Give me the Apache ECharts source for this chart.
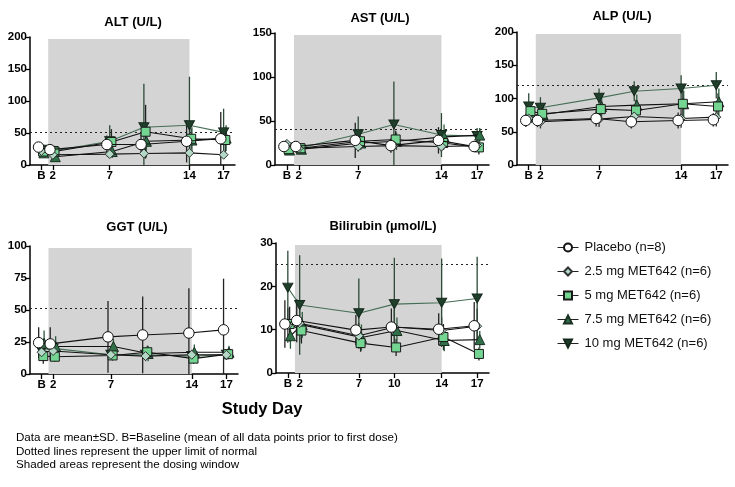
<!DOCTYPE html>
<html><head><meta charset="utf-8">
<script src="https://cdn.jsdelivr.net/npm/echarts@6/dist/echarts.min.js"></script>
<style>html,body{margin:0;padding:0;background:#fff}#c{width:735px;height:487px}</style>
</head><body><div id="c"></div>
<script>
// ---- data ----
const days = [1, 2, 7, 10, 14, 17];           // B (baseline) plotted at day 1
const dayLabelB = 'B';
const groups = ['Placebo (n=8)', '2.5 mg MET642 (n=6)', '5 mg MET642 (n=6)', '7.5 mg MET642 (n=6)', '10 mg MET642 (n=6)'];
const dosingWindow = [1.6, 14];

const altMean = [[28, 24, 32, 32, 37, 41], [22, 16, 17, 18, 19, 16], [21, 21, 36, 52, 41, 39], [19, 13, 21, 37, 39, 42], [24, 22, 37, 59, 62, 51]];
const altSD   = [[8, 7, 14, 16, 33, 42], [6, 4, 5, 6, 6, 5], [8, 9, 20, 42, 16, 20], [6, 4, 10, 25, 20, 20], [8, 8, 25, 68, 76, 37]];
const astMean = [[21, 21, 28, 22, 28, 21], [24, 19, 21, 22, 21, 22], [18, 19, 27, 29, 25, 20], [17, 18, 25, 27, 32, 34], [20, 19, 35, 46, 34, 33]];
const astSD   = [[4, 3, 20, 8, 15, 6], [4, 3, 5, 5, 6, 5], [4, 3, 8, 10, 8, 8], [4, 3, 8, 10, 14, 8], [5, 4, 20, 49, 25, 9]];
const alpMean = [[67, 67, 70, 65, 67, 68], [70, 65, 69, 73, 70, 72], [81, 77, 84, 82, 92, 88], [75, 76, 88, 90, 92, 95], [88, 86, 101, 111, 115, 120]];
const alpSD   = [[10, 10, 12, 10, 12, 10], [10, 10, 12, 14, 14, 14], [14, 14, 15, 16, 20, 20], [12, 14, 15, 16, 20, 20], [20, 16, 14, 15, 20, 20]];
const ggtMean = [[24.5, 23.5, 29, 30.5, 32, 34.5], [17, 18, 15, 14, 15, 15], [14, 13.5, 14.5, 17, 12, 15.5], [24, 21.5, 21.5, 16, 17, 17], [18, 20, 15, 15, 14, 15]];
const ggtSD   = [[12, 13, 28, 30, 35, 40], [5, 5, 4, 4, 4, 4], [6, 4, 4, 5, 4, 4], [10, 8, 6, 6, 6, 5], [6, 6, 4, 4, 4, 4]];
const biliMean = [[11.3, 12.1, 9.9, 10.6, 10.1, 10.9], [11, 11.5, 8.6, 10.6, 9.8, 10.8], [11.3, 9.8, 6.9, 5.9, 8.3, 4.4], [8.6, 11.1, 8.2, 9.8, 7.5, 7.7], [19.7, 15.7, 13.8, 15.9, 16.2, 17.2]];
const biliSD   = [[5.5, 5, 3.5, 4.3, 3.7, 5.5], [4, 4, 3, 4, 3, 4], [4, 3, 2, 2, 3, 1.5], [3, 3, 3, 3, 2.5, 2], [8.5, 11.5, 8, 10.7, 10.2, 9.6]];

const panelTitles = ['ALT (U/L)', 'AST (U/L)', 'ALP (U/L)', 'GGT (U/L)', 'Bilirubin (\u00b5mol/L)'];
const panelUln = [51, 41, 120, 51, 25];
const panelYMax = [200, 150, 200, 100, 30];
const panelYStep = [50, 50, 50, 25, 10];
const ticksShort = [1, 2, 7, 14, 17];
const ticksLong = [1, 2, 7, 10, 14, 17];
const footnotes = ['Data are mean\u00b1SD. B=Baseline (mean of all data points prior to first dose)', 'Dotted lines represent the upper limit of normal', 'Shaded areas represent the dosing window'];

// ---- styling / layout ----
const FONT = 'Liberation Sans, Arial, Helvetica, sans-serif';
const grids = [
  {left: 30, top: 37, width: 205, height: 128},
  {left: 275, top: 33, width: 214, height: 132},
  {left: 517, top: 32, width: 211, height: 133},
  {left: 30, top: 246, width: 208, height: 128},
  {left: 276, top: 243, width: 213, height: 130}
];
const titlePos = [[133, 22], [380, 18], [622, 16], [137, 227], [383, 226]];
const means = [altMean, astMean, alpMean, ggtMean, biliMean];
const sds = [altSD, astSD, alpSD, ggtSD, biliSD];
const panelTicks = [ticksShort, ticksShort, ticksShort, ticksShort, ticksLong];

const gStyle = [
  {symbol: 'circle', size: 10.5, fill: '#ffffff', border: '#111', line: '#111', err: '#222', off: -0.25},
  {symbol: 'diamond', size: 9, fill: '#b3d9c6', border: '#333', line: '#111', err: '#333', off: 0},
  {symbol: 'rect', size: 9, fill: '#74d593', border: '#1a1a1a', line: '#111', err: '#222', off: 0.15},
  {symbol: 'triangle', size: 10, fill: '#2f7048', border: '#1a2e22', line: '#111', err: '#2d5a3d', off: 0.22},
  {symbol: 'path://M0,0 L10,0 L5,9 Z', size: 10, fill: '#1f3f2b', border: '#15281c', line: '#456e55', err: '#2c4a37', off: 0}
];

const grid = [], xAxis = [], yAxis = [], series = [], graphic = [];
for (let p = 0; p < 5; p++) {
  grid.push(grids[p]);
  const tv = panelTicks[p];
  xAxis.push({
    gridIndex: p, type: 'value', min: 0, max: 18,
    axisLine: {show: true, onZero: false, lineStyle: {color: '#000', width: 1.5}},
    axisTick: {show: true, length: 5, lineStyle: {color: '#000', width: 1.3}, customValues: tv},
    axisLabel: {customValues: tv, formatter: v => (v === 1 ? dayLabelB : String(v)), color: '#000', fontSize: 11.5, fontWeight: 'bold', fontFamily: FONT, margin: 5},
    splitLine: {show: false}
  });
  yAxis.push({
    gridIndex: p, type: 'value', min: 0, max: panelYMax[p], interval: panelYStep[p],
    axisLine: {show: true, lineStyle: {color: '#000', width: 1.5}},
    axisTick: {show: true, length: 5, lineStyle: {color: '#000', width: 1.3}},
    axisLabel: {color: '#000', fontSize: 11.5, fontWeight: 'bold', fontFamily: FONT, margin: 3},
    splitLine: {show: false}
  });
  // background: shading + ULN
  series.push({
    type: 'line', xAxisIndex: p, yAxisIndex: p, data: [], silent: true, z: 0,
    markArea: {silent: true, itemStyle: {color: '#d4d4d4'}, data: [[{coord: [dosingWindow[0], 0]}, {coord: [dosingWindow[1], panelYMax[p] * 0.985]}]]},
    markLine: {silent: true, symbol: 'none', label: {show: false},
      lineStyle: {color: '#222', type: [2, 3], width: 1.2},
      data: [[{coord: [0, panelUln[p]]}, {coord: [18, panelUln[p]]}]]}
  });
  for (let g = 0; g < 5; g++) {
    const s = gStyle[g];
    const m = means[p][g], sd = sds[p][g];
    const errData = days.map((d, i) => [d + s.off, m[i] - sd[i], m[i] + sd[i]]);
    series.push({
      type: 'custom', xAxisIndex: p, yAxisIndex: p, silent: true, clip: true, z: 2 + g,
      data: errData,
      renderItem: (params, api) => {
        const a = api.coord([api.value(0), api.value(2)]);
        const b = api.coord([api.value(0), api.value(1)]);
        return {type: 'line', shape: {x1: a[0], y1: a[1], x2: b[0], y2: b[1]}, style: {stroke: s.err, lineWidth: 1.3}};
      }
    });
  }
  for (let g = 4; g >= 0; g--) {
    const s = gStyle[g];
    const m = means[p][g];
    series.push({
      name: groups[g], type: 'line', xAxisIndex: p, yAxisIndex: p, silent: true,
      z: 20 - g, symbol: s.symbol, symbolSize: g === 4 ? [10, 9] : s.size,
      data: days.map((d, i) => [d + s.off, m[i]]),
      lineStyle: {color: s.line, width: 1.1},
      itemStyle: {color: s.fill, borderColor: s.border, borderWidth: 1},
      animation: false
    });
  }
  graphic.push({type: 'text', x: titlePos[p][0], y: titlePos[p][1],
    style: {text: panelTitles[p], font: 'bold 13px ' + FONT, fill: '#000', textAlign: 'center', textVerticalAlign: 'middle'}});
}
graphic.push({type: 'text', x: 262, y: 409, style: {text: 'Study Day', font: 'bold 16.5px ' + FONT, fill: '#000', textAlign: 'center', textVerticalAlign: 'middle'}});
footnotes.forEach((t, i) => graphic.push({type: 'text', x: 16, y: 438 + i * 13.3,
  style: {text: t, font: '11.6px ' + FONT, fill: '#000', textAlign: 'left', textVerticalAlign: 'middle'}}));

const chart = echarts.init(document.getElementById('c'), null, {renderer: 'canvas'});
chart.setOption({
  animation: false,
  backgroundColor: '#fff',
  grid, xAxis, yAxis, series, graphic,
  legend: {
    data: groups, orient: 'vertical', left: 552, top: 236, itemGap: 11, itemWidth: 21, itemHeight: 10,
    lineStyle: {width: 1, color: '#222'},
    textStyle: {fontSize: 13, color: '#111', fontFamily: FONT, padding: [0, 0, 0, 1]}, selectedMode: false
  }
});
</script>
</body></html>
